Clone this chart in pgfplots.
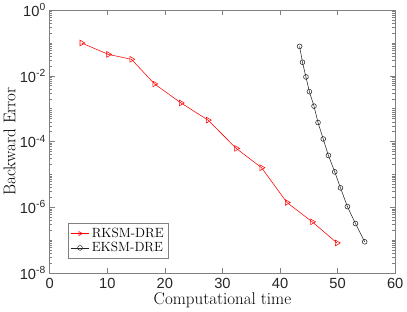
\documentclass[border=0pt]{standalone}
\usepackage{fontspec}
\usepackage{pgfplots}
\pgfplotsset{compat=1.18}
\newfontfamily\ticksf{Liberation Sans}
\definecolor{axgray}{RGB}{128,128,128}
\begin{document}
\begin{tikzpicture}
\begin{axis}[
  scale only axis,
  width=315.5pt, height=240pt,
  xmin=0, xmax=60, ymode=log, ymin=1e-8, ymax=1,
  xtick={0,10,20,30,40,50,60},
  xticklabels={0,10,20,30,40,50,60},
  ytick={1e-8,1e-6,1e-4,1e-2,1},
  yticklabels={10\textsuperscript{-8},10\textsuperscript{-6},10\textsuperscript{-4},10\textsuperscript{-2},10\textsuperscript{0}},
  minor ytick={2e-8,3e-8,4e-8,5e-8,6e-8,7e-8,8e-8,9e-8,1e-7,2e-7,3e-7,4e-7,5e-7,6e-7,7e-7,8e-7,9e-7,
               2e-6,3e-6,4e-6,5e-6,6e-6,7e-6,8e-6,9e-6,1e-5,2e-5,3e-5,4e-5,5e-5,6e-5,7e-5,8e-5,9e-5,
               2e-4,3e-4,4e-4,5e-4,6e-4,7e-4,8e-4,9e-4,1e-3,2e-3,3e-3,4e-3,5e-3,6e-3,7e-3,8e-3,9e-3,
               2e-2,3e-2,4e-2,5e-2,6e-2,7e-2,8e-2,9e-2,1e-1,2e-1,3e-1,4e-1,5e-1,6e-1,7e-1,8e-1,9e-1},
  tick align=inside, tick pos=both,
  major tick length=4.5pt, minor tick length=2.5pt,
  axis line style={axgray, line width=0.6pt},
  every tick/.style={axgray, line width=0.5pt},
  tick label style={font=\ticksf\fontsize{13.4}{15}\selectfont, text=black!85},
  xticklabel style={yshift=-1pt},
  xlabel={Computational time},
  ylabel={Backward Error},
  label style={font=\fontsize{15.5}{18}\selectfont},
  xlabel style={yshift=3pt},
  ylabel style={yshift=-3pt},
  legend style={at={(0.053,0.057)}, anchor=south west, draw=axgray,
    font=\fontsize{12.2}{14}\selectfont, row sep=-1pt, inner sep=2pt,
    legend cell align=left},
  legend image post style={mark size=2.2pt},
]
\addplot[red, line width=0.5pt, mark=triangle, mark size=3pt, mark options={rotate=-90, solid}] coordinates {
(5.55,0.1) (10.2,0.045) (14.2,0.032) (18.2,0.0057) (22.8,0.0015) (27.5,4.5e-4)
(32.4,6.2e-5) (36.8,1.6e-5) (41.2,1.4e-6) (45.6,3.6e-7) (49.9,8.2e-8)};
\addlegendentry{RKSM-DRE}
\addplot[black!85, line width=0.5pt, mark=o, mark size=2.2pt] coordinates {
(43.4,0.079) (43.9,0.026) (44.5,0.0093) (45.1,0.0033) (45.9,0.0012) (46.6,3.8e-4)
(47.5,1.2e-4) (48.4,3.8e-5) (49.5,1.2e-5) (50.5,3.9e-6) (51.7,1.05e-6) (53.1,3.2e-7) (54.7,8.9e-8)};
\addlegendentry{EKSM-DRE}
\path[use as bounding box] (axis description cs:-0.1664,-0.1763) rectangle (axis description cs:1.1236,1.0946);
\end{axis}
\end{tikzpicture}
\end{document}
